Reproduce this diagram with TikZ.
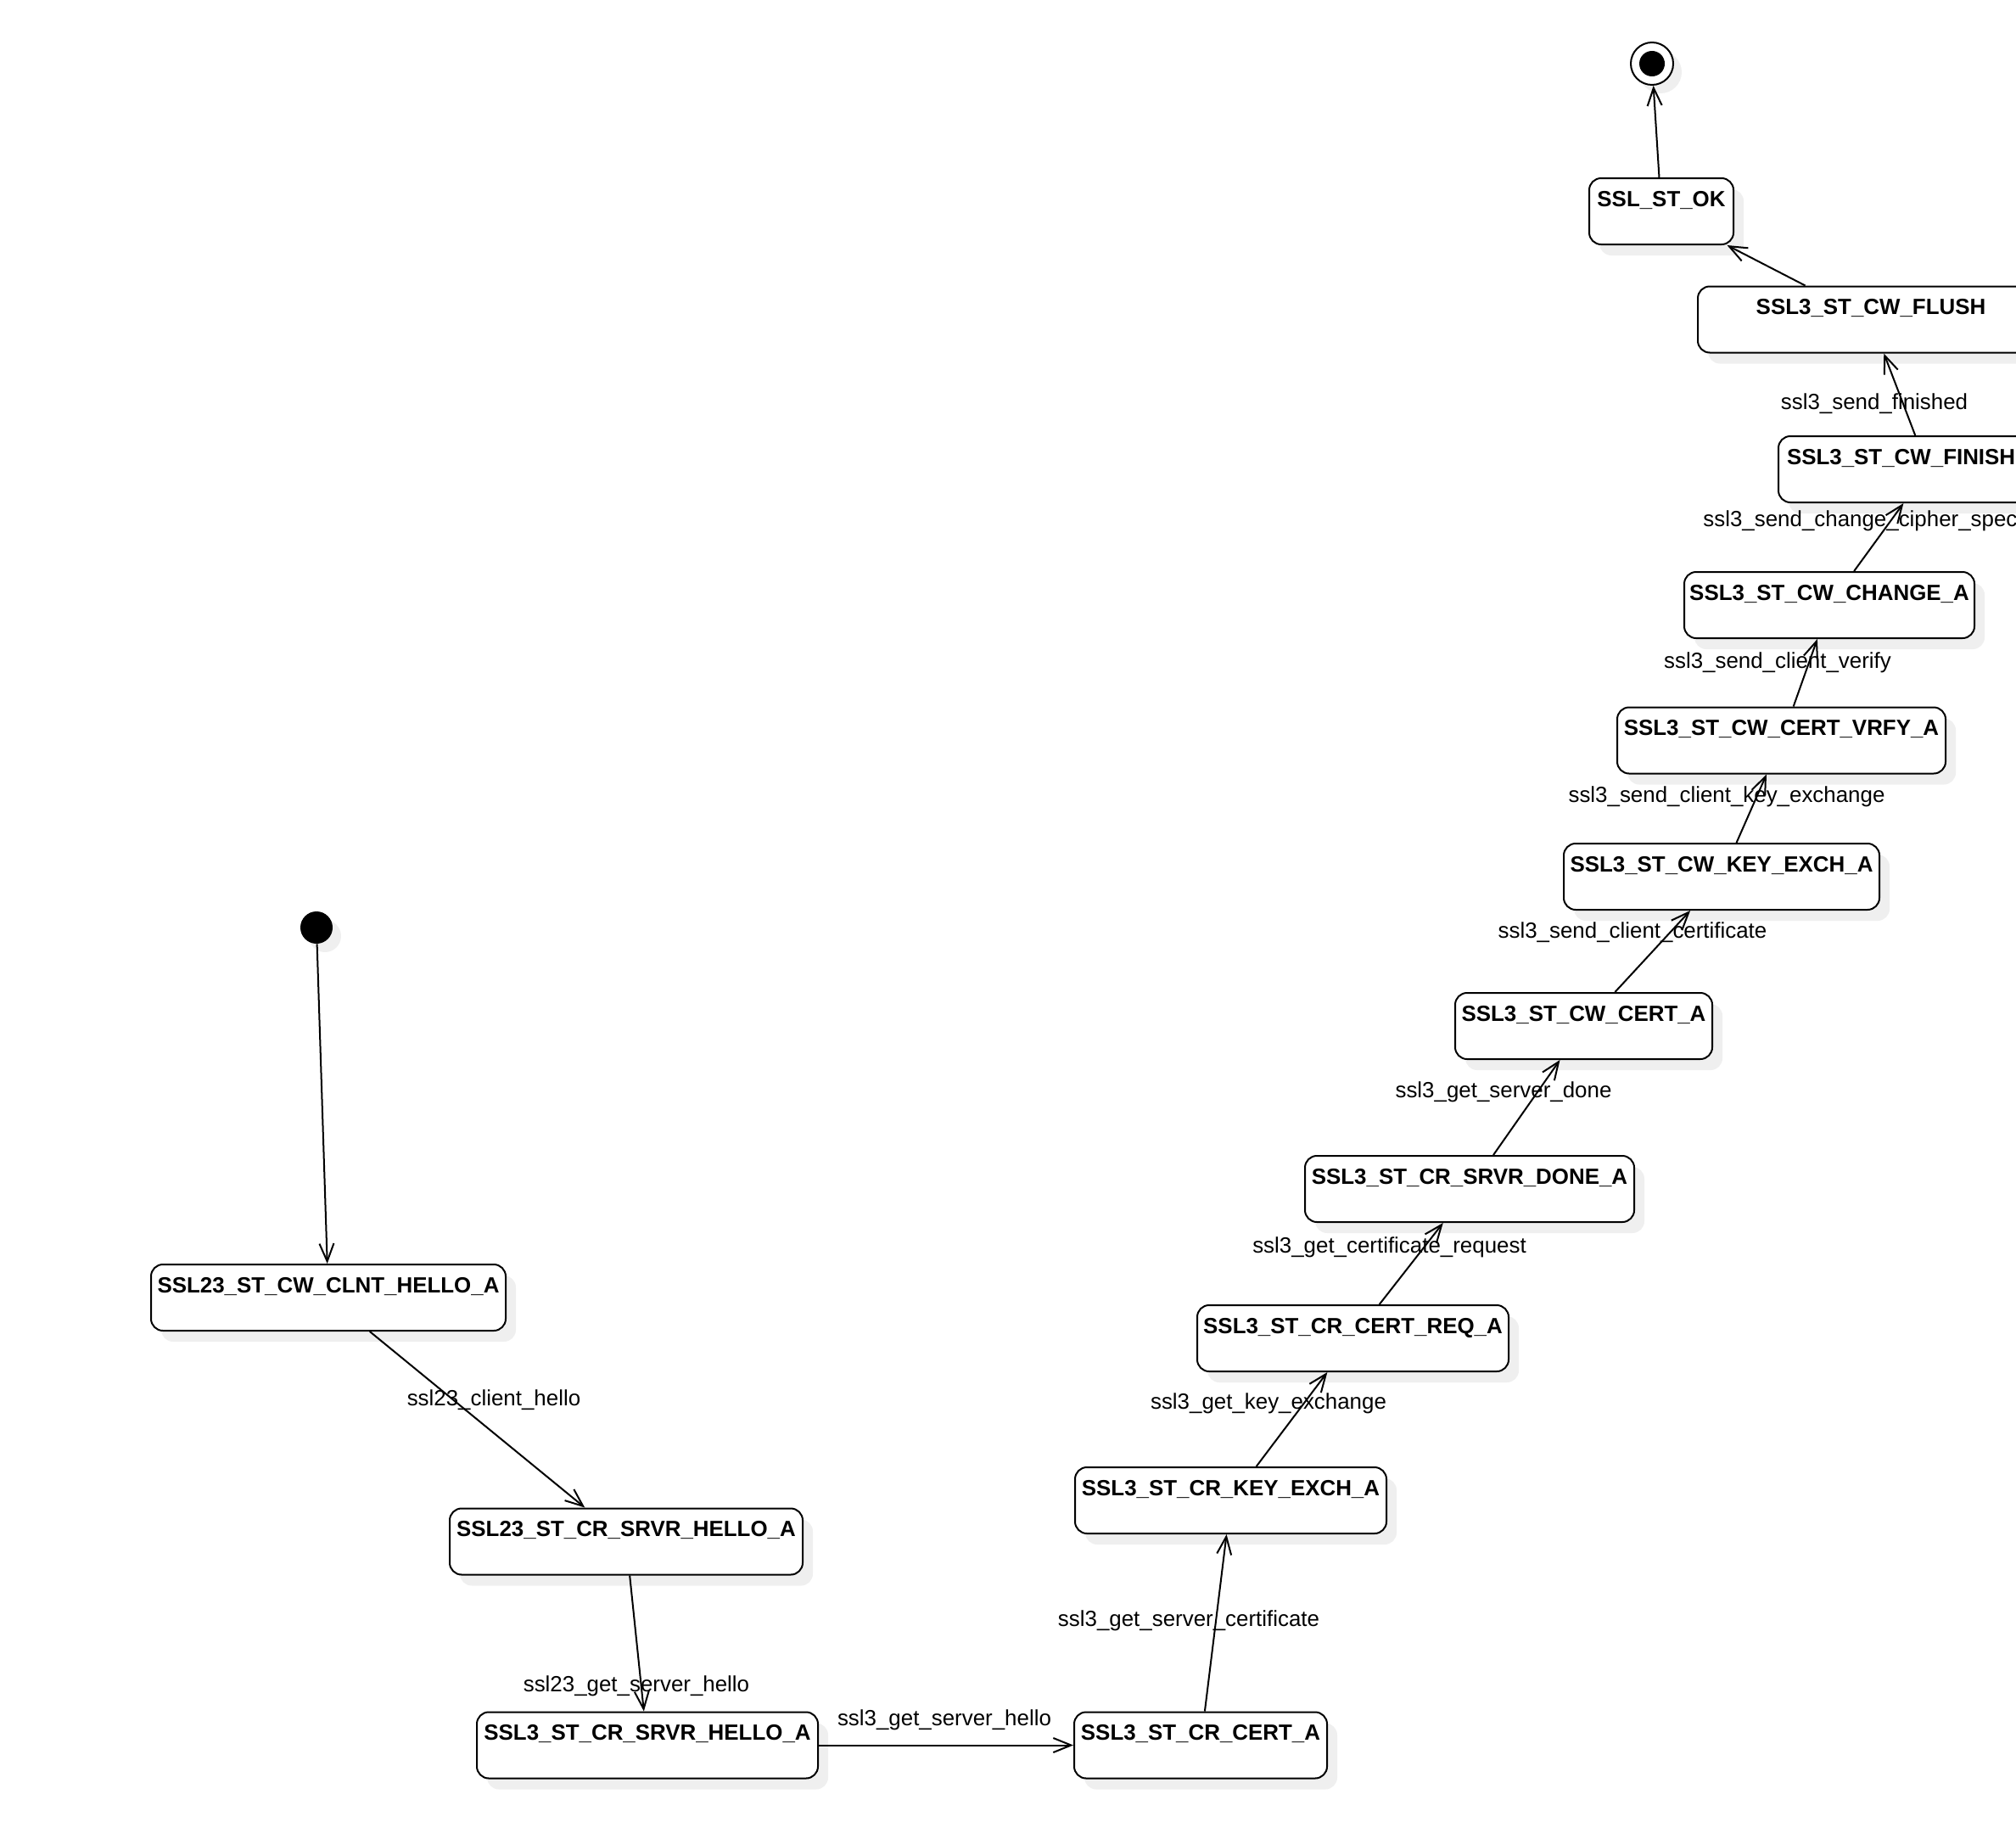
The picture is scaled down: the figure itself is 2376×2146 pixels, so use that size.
\documentclass[tikz,border=0pt]{standalone}
\usepackage{fontspec}
\setmainfont{Liberation Sans}
\usetikzlibrary{arrows.meta,shadows}
\definecolor{shadowgray}{HTML}{EFEFEF}
\tikzset{
  stbox/.style={draw, fill=white, line width=1pt, rounded corners=7pt,
    font=\bfseries\fontsize{12.95}{15}\selectfont,
    inner xsep=1pt, inner ysep=0pt, text height=16.5pt, text depth=22.5pt,
    drop shadow={shadow xshift=6pt, shadow yshift=-6.5pt, fill=shadowgray, opacity=1}},
  trlabel/.style={font=\fontsize{12.95}{15}\selectfont, inner sep=0pt, anchor=base},
  trans/.style={line width=1pt, -{Straight Barb[length=10.5pt,width=8.5pt,line width=1pt]}},
  initst/.style={circle, fill=black, minimum size=19pt, inner sep=0pt,
    drop shadow={shadow xshift=5pt, shadow yshift=-5pt, fill=shadowgray, opacity=1}},
  finalst/.style={circle, draw, fill=white, line width=1pt, minimum size=25pt, inner sep=0pt,
    drop shadow={shadow xshift=5pt, shadow yshift=-5pt, fill=shadowgray, opacity=1}},
  finaldot/.style={circle, fill=black, minimum size=15pt, inner sep=0pt}
}
\begin{document}
\begin{tikzpicture}[x=0.5pt, y=-0.5pt]
\useasboundingbox (0,0) rectangle (2376,2146);
\clip (0,0) rectangle (2376,2146);

% states
\node[initst] (init) at (373,1093) {};
\node[finalst] (fin) at (1947,75) {};
\node[finaldot] (findot) at (1947,75) {};

\node[stbox, minimum width=85pt] (ok) at (1958,249) {SSL\_ST\_OK};
\node[stbox, minimum width=204pt] (flush) at (2205,376.5) {SSL3\_ST\_CW\_FLUSH};
\node[stbox, inner xsep=5pt, text width=166.5pt, align=left] (finish) at (2272.5,553) {SSL3\_ST\_CW\_FINISH};
\node[stbox, minimum width=171pt] (change) at (2156,713) {SSL3\_ST\_CW\_CHANGE\_A};
\node[stbox, minimum width=193.5pt] (vrfy) at (2099.5,872.5) {SSL3\_ST\_CW\_CERT\_VRFY\_A};
\node[stbox, minimum width=186pt] (cwkey) at (2029,1033) {SSL3\_ST\_CW\_KEY\_EXCH\_A};
\node[stbox, minimum width=151.5pt] (cwcert) at (1866.5,1209) {SSL3\_ST\_CW\_CERT\_A};
\node[stbox, minimum width=194pt] (done) at (1732,1401) {SSL3\_ST\_CR\_SRVR\_DONE\_A};
\node[stbox, minimum width=183.5pt] (req) at (1594.5,1577) {SSL3\_ST\_CR\_CERT\_REQ\_A};
\node[stbox, minimum width=183.5pt] (crkey) at (1450.5,1768) {SSL3\_ST\_CR\_KEY\_EXCH\_A};
\node[stbox, minimum width=149pt] (crcert) at (1415,2056.5) {SSL3\_ST\_CR\_CERT\_A};
\node[stbox, minimum width=201pt] (sthello) at (763,2056.5) {SSL3\_ST\_CR\_SRVR\_HELLO\_A};
\node[stbox, minimum width=208pt] (stwhello) at (738,1816.5) {SSL23\_ST\_CR\_SRVR\_HELLO\_A};
\node[stbox, minimum width=209pt] (clnt) at (387,1529) {SSL23\_ST\_CW\_CLNT\_HELLO\_A};

% labels
\node[trlabel] (l1) at (582,1656) {ssl23\_client\_hello};
\node[trlabel] (l2) at (750,1993) {ssl23\_get\_server\_hello};
\node[trlabel] (l3) at (1113,2033) {ssl3\_get\_server\_hello};
\node[trlabel] (l4) at (1401,1916) {ssl3\_get\_server\_certificate};
\node[trlabel] (l5) at (1495,1660) {ssl3\_get\_key\_exchange};
\node[trlabel] (l6) at (1637.5,1476) {ssl3\_get\_certificate\_request};
\node[trlabel] (l7) at (1772,1293) {ssl3\_get\_server\_done};
\node[trlabel] (l8) at (1924,1105) {ssl3\_send\_client\_certificate};
\node[trlabel] (l9) at (2035,945) {ssl3\_send\_client\_key\_exchange};
\node[trlabel] (l10) at (2095,787) {ssl3\_send\_client\_verify};
\node[trlabel, anchor=base west] (l11) at (2007,620) {ssl3\_send\_change\_cipher\_spec};
\node[trlabel] (l12) at (2209,482) {ssl3\_send\_finished};

% transitions
\draw[trans] (init) -- (clnt);
\draw[trans] (clnt) -- (stwhello);
\draw[trans] (stwhello) -- (sthello);
\draw[trans] (sthello) -- (crcert);
\draw[trans] (crcert) -- (crkey);
\draw[trans] (crkey) -- (req);
\draw[trans] (req) -- (done);
\draw[trans] (done) -- (cwcert);
\draw[trans] (cwcert) -- (cwkey);
\draw[trans] (cwkey) -- (vrfy);
\draw[trans] (vrfy) -- (change);
\draw[trans] (change) -- (finish);
\draw[trans] (finish) -- (flush);
\draw[trans] (flush) -- (ok);
\draw[trans] (ok) -- (fin);
\end{tikzpicture}
\end{document}
